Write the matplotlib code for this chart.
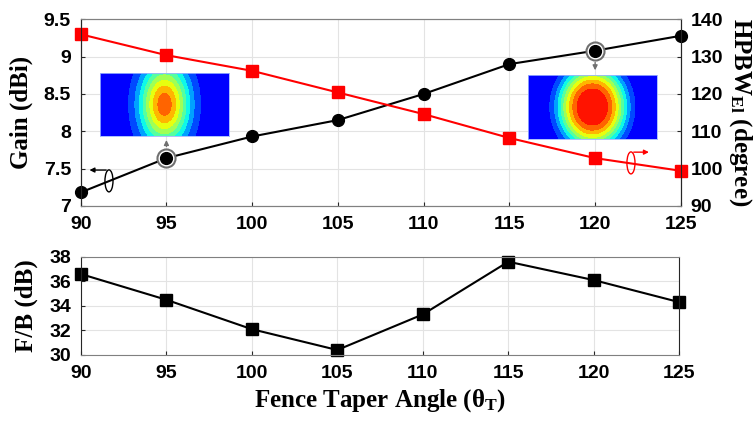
import numpy as np
import matplotlib
matplotlib.use('Agg')
import matplotlib.pyplot as plt
from matplotlib.patches import Ellipse
from matplotlib.colors import ListedColormap

plt.rcParams['mathtext.fontset'] = 'custom'
plt.rcParams['mathtext.rm'] = 'Liberation Serif:bold'
plt.rcParams['mathtext.it'] = 'Liberation Serif:bold'
plt.rcParams['mathtext.bf'] = 'Liberation Serif:bold'

# taper angle sweep
angle = [90, 95, 100, 105, 110, 115, 120, 125]
gain = [7.18, 7.64, 7.93, 8.15, 8.50, 8.90, 9.08, 9.28]        # dBi
hpbw = [136.0, 130.4, 126.2, 120.4, 114.6, 108.2, 102.8, 99.4]  # degree
fb = [36.6, 34.5, 32.1, 30.4, 33.3, 37.6, 36.1, 34.3]           # dB

gain_ticks = [7, 7.5, 8, 8.5, 9, 9.5]
gain_ticklabels = ['7', '7.5', '8', '8.5', '9', '9.5']
hpbw_ticks = [90, 100, 110, 120, 130, 140]
fb_ticks = [30, 32, 34, 36, 38]

tickfont = dict(family='Liberation Sans', weight='bold', size=14)
labfont = dict(family='Liberation Serif', weight='bold', size=18)
dark = '#262626'
light = '#808080'


def style(a):
    a.tick_params(direction='in', length=3, width=0.8, colors=dark, pad=7)
    for side in ['left', 'right']:
        a.spines[side].set_color(dark)
    for side in ['top', 'bottom']:
        a.spines[side].set_color(light)
    for lab in a.get_xticklabels() + a.get_yticklabels():
        lab.set_fontproperties(matplotlib.font_manager.FontProperties(**tickfont))
        lab.set_color('black')


fig = plt.figure(figsize=(7.54, 4.21), dpi=100)
ax = fig.add_axes([0.107, 0.511, 0.796, 0.443])
ax2 = ax.twinx()
axb = fig.add_axes([0.107, 0.157, 0.794, 0.233])

# ---- top: gain (left) and HPBW (right)
ax.plot(angle, gain, '-', color='black', lw=1.5, zorder=3)
ax.plot([95, 120], [gain[1], gain[6]], 'o', ms=13, mfc='white', mec='#707070',
        mew=1.5, zorder=3)
ax.plot(angle, gain, 'o', color='black', ms=8.5, zorder=4, clip_on=False)
ax2.plot(angle, hpbw, 's-', color='red', lw=1.5, ms=8, clip_on=False)

ax.set_xlim(90, 125)
ax.set_ylim(7, 9.5)
ax2.set_ylim(90, 140)
ax.set_xticks(angle)
ax.set_yticks(gain_ticks)
ax.set_yticklabels(gain_ticklabels)
ax2.set_yticks(hpbw_ticks)
ax.grid(True, color='#e3e3e3', lw=0.8)
ax.set_axisbelow(True)
style(ax)
style(ax2)
ax.set_ylabel('Gain (dBi)', **labfont, labelpad=8)
ax2.set_ylabel('HPBW$_{\\rm El}$ (degree)', **labfont, rotation=270, labelpad=22)

# arrows from highlighted points to the pattern insets
arr = dict(arrowstyle='-|>', color='#707070', lw=1.0, mutation_scale=7)
ax.annotate('', xy=(95, 7.92), xytext=(95, 7.76), arrowprops=arr)
ax.annotate('', xy=(120, 8.78), xytext=(120, 8.96), arrowprops=arr)

# axis indicator ellipses
ax.add_patch(Ellipse((91.65, 7.335), 0.47, 0.295, fill=False, ec='black', lw=1.0, zorder=5))
ax.annotate('', xy=(90.35, 7.48), xytext=(91.65, 7.48),
            arrowprops=dict(arrowstyle='-|>', color='black', lw=1.0, mutation_scale=7))
ax.add_patch(Ellipse((122.09, 7.576), 0.47, 0.295, fill=False, ec='red', lw=1.0, zorder=5))
ax.annotate('', xy=(123.3, 7.72), xytext=(122.09, 7.72),
            arrowprops=dict(arrowstyle='-|>', color='red', lw=1.0, mutation_scale=7))

# radiation pattern insets (E-plane beam, narrow and wide)
cmap = ListedColormap(plt.cm.jet(np.linspace(0.11, 0.89, 10)))
levels = np.linspace(0, 1, 11)
xx, yy = np.meshgrid(np.linspace(-1, 1, 300), np.linspace(-0.5, 0.5, 150))
insets = [([91.13, 7.94, 7.52, 0.84], 0.86, 0.38, 0.64, 2),
          ([116.08, 7.90, 7.52, 0.85], 1.0, 0.50, 0.60, 3)]
for box, peak, sx, sy, p in insets:
    ia = ax.inset_axes(box, transform=ax.transData)
    r = np.sqrt((xx / sx) ** 2 + (yy / sy) ** 2)
    field = peak * np.exp(-r ** p)
    ia.contourf(xx, yy, field, levels=levels, cmap=cmap, vmin=0, vmax=1)
    ia.set_xticks([])
    ia.set_yticks([])
    for s in ia.spines.values():
        s.set_color('#9db4ff')
        s.set_linewidth(0.6)

# ---- bottom: front-to-back ratio
axb.plot(angle, fb, 's-', color='black', lw=1.5, ms=8, clip_on=False)
axb.set_xlim(90, 125)
axb.set_ylim(30, 38)
axb.set_xticks(angle)
axb.set_yticks(fb_ticks)
axb.grid(True, color='#e3e3e3', lw=0.8)
axb.set_axisbelow(True)
style(axb)
axb.set_ylabel('F/B (dB)', **labfont, labelpad=8)
axb.set_xlabel('Fence Taper Angle (θ$_{\\rm T}$)', **labfont, labelpad=4)

fig.savefig('out.png', dpi=100)
